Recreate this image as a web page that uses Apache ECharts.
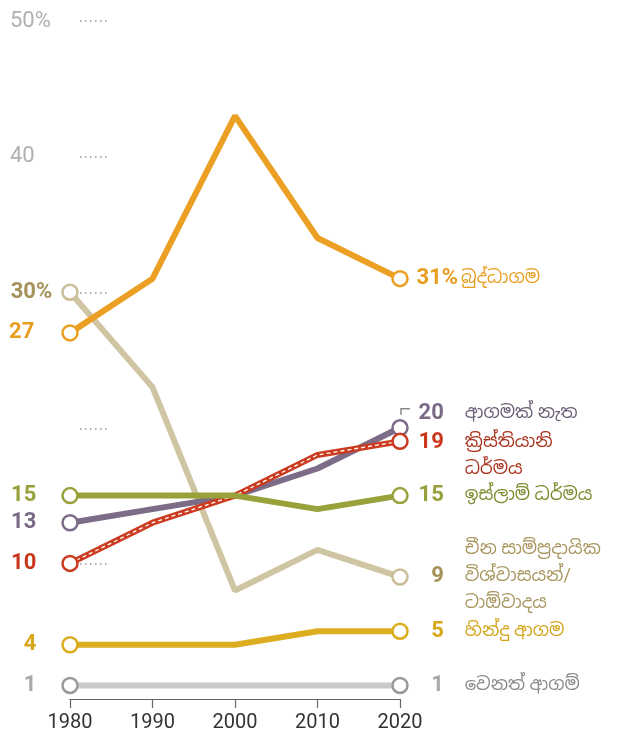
<!DOCTYPE html>
<html>
<head>
<meta charset="utf-8">
<script src="https://cdn.jsdelivr.net/npm/echarts@6/dist/echarts.min.js"></script>
<style>
  html, body { margin: 0; padding: 0; background: #fff; }
  #main { width: 621px; height: 733px; }
</style>
</head>
<body>
<div id="main"></div>
<script>
// data (% of population)
var years = ['1980', '1990', '2000', '2010', '2020'];
var buddhism = [27, 31, 43, 34, 31];
var chineseTrad = [30, 23, 8, 11, 9];
var noReligion = [13, 14, 15, 17, 20];
var christianity = [10, 13, 15, 18, 19];
var islam = [15, 15, 15, 14, 15];
var hinduism = [4, 4, 4, 5, 5];
var otherRel = [1, 1, 1, 1, 1];
var yTicks = { 50: '50%', 40: '40' };

var FONT = 'Roboto, "Noto Sans", "Noto Sans Sinhala", sans-serif';
var VAL_SIZE = 22;
var NAME_SIZE = 18;
var last = years.length - 1;

// width of a bold value text, so numbers can be right aligned in front of the names
var ctx = document.createElement('canvas').getContext('2d');
function valWidth(t) {
  ctx.font = 'bold ' + VAL_SIZE + 'px ' + FONT;
  return ctx.measureText(t).width;
}

// builds one line series, with open circles only at both ends
function makeLine(name, values, c) {
  var endVal = String(values[last]);
  var box = c.pct ? 28 : 30;
  return {
    name: name,
    type: 'line',
    data: values.map(function (v, i) {
      var item = { value: v };
      if (i === 0) {
        item.label = {
          show: true,
          position: 'left',
          distance: c.leftDist || 25,
          formatter: c.leftText || String(v),
          color: c.valColor,
          fontFamily: FONT,
          fontWeight: 'bold',
          fontSize: VAL_SIZE
        };
      }
      if (i === last) {
        item.label = {
          show: true,
          position: 'right',
          distance: 5,
          offset: c.offset || [0, 0],
          formatter: c.rightText,
          fontFamily: FONT,
          rich: {
            v: { fontSize: VAL_SIZE, fontWeight: 'bold', color: c.valColor, fontFamily: FONT,
                 padding: [0, 0, 0, Math.max(0, box - valWidth(endVal))] },
            p: { fontSize: VAL_SIZE, fontWeight: 'bold', color: c.valColor, fontFamily: FONT },
            n: { fontSize: NAME_SIZE, color: c.nameColor, padding: [0, 0, 0, 21], lineHeight: 27, fontFamily: FONT },
            b: { fontSize: NAME_SIZE, color: c.nameColor, padding: [0, 0, 0, 3], lineHeight: 27, fontFamily: FONT },
            m: { fontSize: NAME_SIZE, color: c.nameColor, padding: [0, 0, 0, 51], lineHeight: 27, fontFamily: FONT }
          }
        };
      }
      return item;
    }),
    symbol: 'circle',
    symbolSize: function (val, params) {
      return params.dataIndex === 0 || params.dataIndex === last ? 15 : 0;
    },
    showAllSymbol: true,
    itemStyle: { color: '#fff', borderColor: c.marker || c.line, borderWidth: 2.5 },
    lineStyle: { color: c.line, width: 6 },
    emphasis: { disabled: true },
    silent: true,
    animation: false
  };
}

var chart = echarts.init(document.getElementById('main'));

var option = {
  animation: false,
  grid: [
    { left: 70, right: 221, top: 21, bottom: 33 },
    { left: 80, width: 30, top: 21, bottom: 33 }
  ],
  xAxis: [
    {
      type: 'category',
      data: years,
      boundaryGap: false,
      axisLine: { lineStyle: { color: '#666', width: 1.2 } },
      axisTick: { show: true, length: 9, lineStyle: { color: '#666', width: 1.2 } },
      axisLabel: { color: '#333', fontSize: 20, margin: 14, fontFamily: FONT }
    },
    { gridIndex: 1, type: 'value', show: false }
  ],
  yAxis: [
    {
      type: 'value',
      min: 0,
      max: 50,
      interval: 10,
      axisLine: { show: false },
      axisTick: { show: false },
      splitLine: { show: false },
      axisLabel: {
        align: 'left',
        margin: 60,
        color: '#b0b0b0',
        fontSize: 22,
        fontFamily: FONT,
        formatter: function (v) { return yTicks[v] || ''; }
      }
    },
    {
      gridIndex: 1,
      type: 'value',
      min: 0,
      max: 50,
      interval: 10,
      axisLine: { show: false },
      axisTick: { show: false },
      axisLabel: { show: false },
      splitLine: {
        show: true,
        showMinLine: false,
        lineStyle: { color: '#999', width: 1.5, type: [1.5, 3.5] }
      }
    }
  ],
  series: [
    makeLine('චීන සාම්ප්‍රදායික විශ්වාසයන්/ටාඕවාදය', chineseTrad, {
      line: '#CFC5A3', marker: '#C9BE98', valColor: '#A59259', nameColor: '#A8965E',
      leftDist: 9, leftText: '30%',
      rightText: '{m|චීන සාම්ප්‍රදායික}\n{v|9}{n|විශ්වාසයන්/}\n{m|ටාඕවාදය}'
    }),
    makeLine('වෙනත් ආගම්', otherRel, {
      line: '#CACACA', marker: '#999', valColor: '#A9A9A9', nameColor: '#8A8A8A',
      rightText: '{v|1}{n|වෙනත් ආගම්}'
    }),
    makeLine('හින්දු ආගම', hinduism, {
      line: '#DBAD1F', valColor: '#D8A718', nameColor: '#D3A41A',
      rightText: '{v|5}{n|හින්දු ආගම}'
    }),
    makeLine('ආගමක් නැත', noReligion, {
      line: '#7C6C87', valColor: '#7A6A86', nameColor: '#6B5D76',
      offset: [0, -14],
      rightText: '{v|20}{n|ආගමක් නැත}'
    }),
    makeLine('ක්‍රිස්තියානි ධර්මය', christianity, {
      line: '#CB3B1F', valColor: '#C9381D', nameColor: '#A8321C',
      offset: [0, 15],
      rightText: '{v|19}{n|ක්‍රිස්තියානි}\n{m|ධර්මය}'
    }),
    {
      name: 'christianity-dash',
      type: 'line',
      data: christianity,
      symbol: 'none',
      lineStyle: { color: '#fff', width: 1.3, type: [4, 3] },
      silent: true,
      animation: false
    },
    makeLine('ඉස්ලාම් ධර්මය', islam, {
      line: '#99A23A', valColor: '#97A03A', nameColor: '#7E892C',
      rightText: '{v|15}{n|ඉස්ලාම් ධර්මය}'
    }),
    makeLine('බුද්ධාගම', buddhism, {
      line: '#EBA024', valColor: '#E99D1F', nameColor: '#E99D1F', leftDist: 27, pct: true,
      rightText: '{v|31}{p|%}{b|බුද්ධාගම}'
    })
  ]
};

chart.setOption(option);

// small elbow pointing from the 2020 "no religion" circle to its raised label
var p = chart.convertToPixel({ seriesIndex: 3 }, [last, noReligion[last]]);
chart.setOption({
  graphic: [{
    type: 'polyline',
    shape: { points: [[p[0] + 1, p[1] - 13], [p[0] + 1, p[1] - 19], [p[0] + 10, p[1] - 19]] },
    style: { stroke: '#888', lineWidth: 1.5, fill: null },
    silent: true
  }]
});
</script>
</body>
</html>
